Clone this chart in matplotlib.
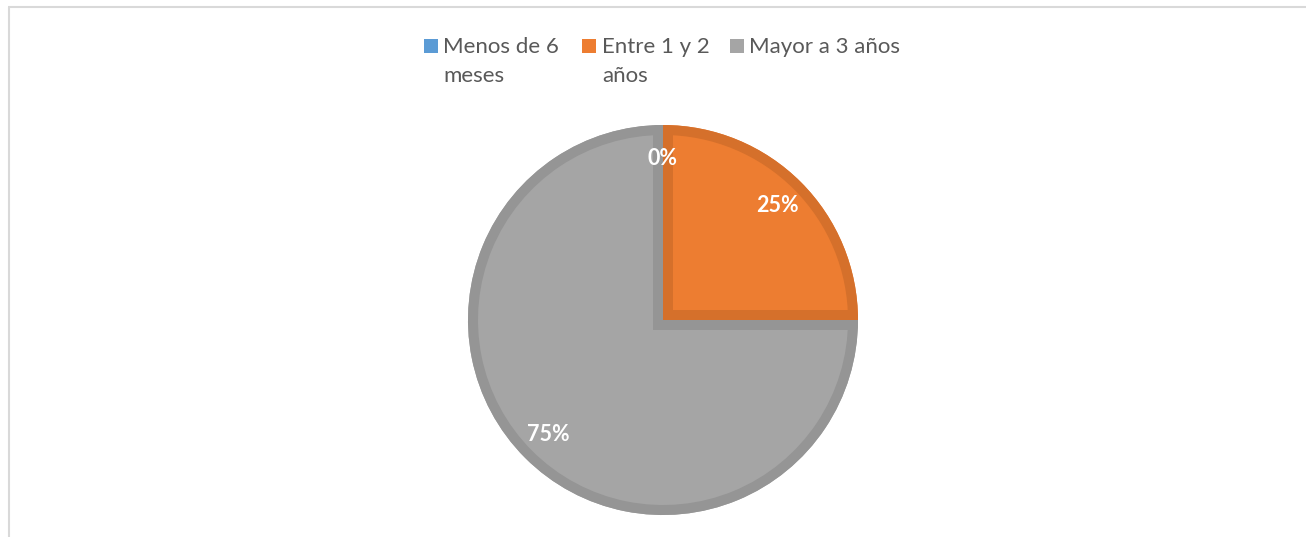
import matplotlib
matplotlib.use("Agg")
import matplotlib.pyplot as plt
from matplotlib.patches import Rectangle, Wedge

categories = ["Menos de 6\nmeses", "Entre 1 y 2\naños", "Mayor a 3 años"]
values = [0, 25, 75]
colors = ["#5B9BD5", "#ED7D31", "#A5A5A5"]
edge_colors = ["#4A89C2", "#D5702B", "#959595"]

W, H = 1306, 537
fig = plt.figure(figsize=(W / 100, H / 100), dpi=100)
ax = fig.add_axes([0, 0, 1, 1])
ax.set_xlim(0, W)
ax.set_ylim(0, H)
ax.set_aspect("equal")
ax.axis("off")

# chart frame
ax.plot([8, W + 5], [H - 6.5, H - 6.5], color="#D9D9D9", lw=1.5, solid_capstyle="butt")
ax.plot([8.5, 8.5], [-5, H - 6.5], color="#D9D9D9", lw=1.5, solid_capstyle="butt")

font = ["Lato", "DejaVu Sans"]

wedges, texts, autotexts = ax.pie(
    values, colors=colors, startangle=90, counterclock=False,
    center=(663, H - 320), radius=195, autopct="%1.0f%%", pctdistance=0.83,
    wedgeprops=dict(linewidth=0),
    textprops=dict(color="white", fontsize=15.5, fontweight="bold", family=font),
)
# inner border (Excel style)
for w, ec in zip(wedges, edge_colors):
    b = Wedge(w.center, w.r, w.theta1, w.theta2, facecolor="none",
              edgecolor=ec, linewidth=20 * 72 / 100, zorder=w.get_zorder() + 0.1)
    ax.add_patch(b)
    b.set_clip_path(w)
for t in autotexts:
    t.set_zorder(5)
ax.set_xlim(0, W)
ax.set_ylim(0, H)

# legend
sq_x = [424, 582, 730]
tx_x = [443, 602, 749]
for c, sx, tx, lab in zip(colors, sq_x, tx_x, categories):
    ax.add_patch(Rectangle((sx, H - 53), 14, 14, facecolor=c, edgecolor="none"))
    for i, line in enumerate(lab.split("\n")):
        ax.text(tx, H - 53 - 29 * i, line, fontsize=16, color="#595959", family=font,
                va="baseline", ha="left")

fig.savefig("out.png", dpi=100)
